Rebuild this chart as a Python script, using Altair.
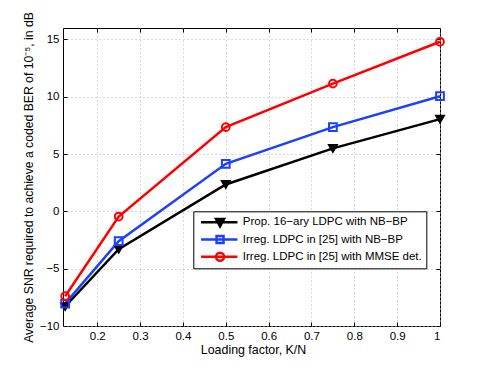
import altair as alt
import pandas as pd

# ---- data ----
loading = [0.125, 0.25, 0.5, 0.75, 1.0]
series_names = [
    "Prop. 16\u2212ary LDPC with NB\u2212BP",
    "Irreg. LDPC in [25] with NB\u2212BP",
    "Irreg. LDPC in [25] with MMSE det.",
]
snr_prop = [-8.3, -3.3, 2.35, 5.5, 8.05]
snr_irreg_bp = [-8.05, -2.6, 4.15, 7.35, 10.05]
snr_irreg_mmse = [-7.4, -0.45, 7.35, 11.15, 14.8]

x_ticks = [0.2, 0.3, 0.4, 0.5, 0.6, 0.7, 0.8, 0.9, 1.0]
y_ticks = [-10, -5, 0, 5, 10, 15]

rows = []
for name, vals in zip(series_names, [snr_prop, snr_irreg_bp, snr_irreg_mmse]):
    for xv, yv in zip(loading, vals):
        rows.append({"x": xv, "y": yv, "series": name})
df = pd.DataFrame(rows)

colors = ["#000000", "#1f3fff", "#ff0000"]
marker_shapes = ["triangle-down", "square", "circle"]
marker_fills = ["#000000", "transparent", "transparent"]

# legend symbols: line segment + marker (unit = sqrt(symbolSize)/2 px)
legend_paths = [
    "M-0.5,0L8.6,0M3.25,-0.85L5.25,-0.85L4.25,1Z",
    "M-0.5,0L8.6,0M3.375,-0.875L5.125,-0.875L5.125,0.875L3.375,0.875Z",
    "M-0.5,0L8.6,0M3.25,0A1,1 0 1,0 5.25,0A1,1 0 1,0 3.25,0Z",
]

FONT = "Liberation Sans"
W, H = 377, 298
xscale = alt.Scale(domain=[0.12, 1.0], nice=False, zero=False)
yscale = alt.Scale(domain=[-10, 16], nice=False, zero=False)

X_main = alt.X(
    "x:Q",
    scale=xscale,
    axis=alt.Axis(
        title="Loading factor, K/N",
        values=x_ticks,
        format="~g",
        grid=True,
        gridColor="#b4b4b4",
        gridDash=[1, 3],
        gridWidth=1,
        domain=False,
        ticks=False,
        tickSize=0,
        labelPadding=4,
        labelFontSize=11.5,
        labelFont=FONT,
        labelColor="black",
        titleFont=FONT,
        titleFontSize=12.4,
        titleFontWeight="normal",
        titleColor="black",
        titleX=190,
        titleY=27.5,
        titleBaseline="alphabetic",
        titleAlign="center",
    ),
)
Y_main = alt.Y(
    "y:Q",
    scale=yscale,
    axis=alt.Axis(
        title="Average SNR required to achieve a coded BER of 10\u207b\u2075, in dB",
        values=y_ticks,
        grid=True,
        gridColor="#b4b4b4",
        gridDash=[1, 3],
        gridWidth=1,
        domain=False,
        ticks=False,
        tickSize=0,
        labelPadding=4,
        labelFontSize=11.5,
        labelFont=FONT,
        labelColor="black",
        titleFont=FONT,
        titleFontSize=12.2,
        titleFontWeight="normal",
        titleColor="black",
        titleAngle=270,
        titleX=-34.5,
        titleY=149,
        titleBaseline="middle",
        titleAlign="center",
    ),
)
X_none = alt.X("x:Q", scale=xscale, axis=None)
Y_none = alt.Y("y:Q", scale=yscale, axis=None)


def tick_axis(orient, offset, values):
    return alt.Axis(
        orient=orient,
        offset=offset,
        values=values,
        labels=False,
        domain=False,
        grid=False,
        ticks=True,
        tickSize=4,
        tickColor="black",
        tickWidth=1,
        title=None,
    )


base = alt.Chart(df)
color_scale = alt.Scale(domain=series_names, range=colors)

lines = base.mark_line(strokeWidth=2.5).encode(
    x=X_main,
    y=Y_main,
    color=alt.Color("series:N", scale=color_scale, legend=None),
)

points = base.mark_point(filled=False, strokeWidth=2, size=60, opacity=1).encode(
    x=X_none,
    y=Y_none,
    color=alt.Color("series:N", scale=color_scale, legend=None),
    shape=alt.Shape("series:N", scale=alt.Scale(domain=series_names, range=marker_shapes), legend=None),
    fill=alt.Fill("series:N", scale=alt.Scale(domain=series_names, range=marker_fills), legend=None),
)

# inward tick marks on all four sides (MATLAB style box)
ticks_a = base.mark_point(opacity=0).encode(
    x=alt.X("x:Q", scale=xscale, axis=tick_axis("top", -H, x_ticks)),
    y=alt.Y("y:Q", scale=yscale, axis=tick_axis("right", -W, y_ticks)),
)
ticks_b = base.mark_point(opacity=0).encode(
    x=alt.X("x:Q", scale=xscale, axis=tick_axis("bottom", -H, x_ticks)),
    y=alt.Y("y:Q", scale=yscale, axis=tick_axis("left", -W, y_ticks)),
)

leg = dict(
    orient="none",
    legendX=130.3,
    legendY=183.3,
    title=None,
    strokeColor="black",
    fillColor="white",
    padding=4,
    cornerRadius=0,
    symbolSize=64,
    symbolStrokeWidth=2.5,
    symbolOpacity=1,
    labelOffset=34,
    labelFontSize=11.5,
    labelFont=FONT,
    labelColor="black",
    labelLimit=400,
    clipHeight=14,
    rowPadding=3.2,
)

legend_layer = base.mark_point(filled=False, strokeWidth=2.5).encode(
    x=X_none,
    y=Y_none,
    color=alt.Color("series:N", scale=color_scale, legend=alt.Legend(**leg)),
    shape=alt.Shape("series:N", scale=alt.Scale(domain=series_names, range=legend_paths), legend=alt.Legend(**leg)),
    fill=alt.Fill("series:N", scale=alt.Scale(domain=series_names, range=marker_fills), legend=alt.Legend(**leg)),
).transform_filter("false")

chart = (
    alt.layer(lines, points, ticks_a, ticks_b, legend_layer)
    .resolve_scale(color="independent", shape="independent", fill="independent")
    .resolve_axis(x="independent", y="independent")
    .properties(
        width=W,
        height=H,
        autosize=alt.AutoSizeParams(type="none"),
        padding={"left": 55, "top": 20, "right": 37, "bottom": 33},
        background="white",
    )
    .configure_view(stroke="black", strokeWidth=1)
)

chart.save("out.html", embed_options={"renderer": "svg", "actions": False})
